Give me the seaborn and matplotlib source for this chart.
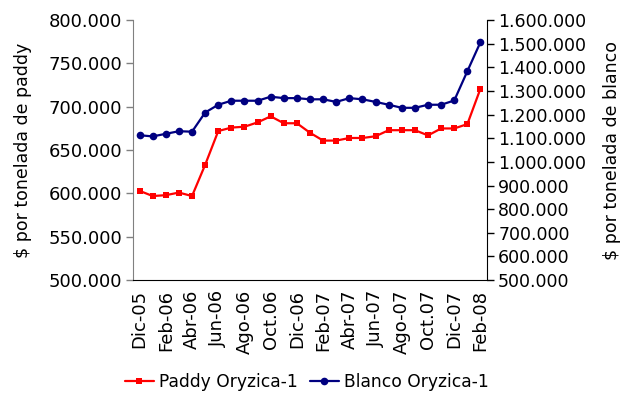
import numpy as np
import pandas as pd
import seaborn as sns
import matplotlib.pyplot as plt
from matplotlib.ticker import FuncFormatter, FixedLocator

# meses Dic-05 .. Feb-08
meses = ['Dic-05', 'Ene-06', 'Feb-06', 'Mar-06', 'Abr-06', 'May-06', 'Jun-06', 'Jul-06',
         'Ago-06', 'Sep-06', 'Oct.06', 'Nov-06', 'Dic-06', 'Ene-07', 'Feb-07', 'Mar-07',
         'Abr-07', 'May-07', 'Jun-07', 'Jul-07', 'Ago-07', 'Sep-07', 'Oct.07', 'Nov-07',
         'Dic-07', 'Ene-08', 'Feb-08']

# $ por tonelada de paddy (eje izq.)
paddy = [603000, 597000, 598000, 601000, 597000, 633000, 672000, 676000, 677000,
         682000, 689000, 681000, 681000, 670000, 661000, 661000, 664000, 664000,
         666000, 673000, 673000, 673000, 667000, 675000, 675000, 680000, 721000]

# $ por tonelada de blanco (eje der.)
blanco = [1113000, 1108000, 1119000, 1130000, 1128000, 1209000, 1242000, 1259000, 1259000,
          1259000, 1276000, 1270000, 1270000, 1265000, 1265000, 1254000, 1270000, 1265000,
          1254000, 1242000, 1229000, 1229000, 1242000, 1242000, 1260000, 1384000, 1507000]

df = pd.DataFrame({'x': np.arange(len(meses)), 'paddy': paddy, 'blanco': blanco})

sns.set_style('white')
plt.rcParams['font.family'] = ['DejaVu Sans']
plt.rcParams['text.color'] = 'black'
plt.rcParams['axes.labelcolor'] = 'black'
plt.rcParams['xtick.color'] = 'black'
plt.rcParams['ytick.color'] = 'black'

fig = plt.figure(figsize=(6.26, 4.03), dpi=100)
ax = fig.add_axes([0.2125, 0.305, 0.5655, 0.645])
ax2 = ax.twinx()

sns.lineplot(data=df, x='x', y='paddy', ax=ax, color='#FF0000', marker='s',
             markersize=5, markeredgewidth=0, linewidth=1.6, label='Paddy Oryzica-1', legend=False)
sns.lineplot(data=df, x='x', y='blanco', ax=ax2, color='#000080', marker='o',
             markersize=5.5, markeredgewidth=0, linewidth=1.6, label='Blanco Oryzica-1', legend=False)

def miles(v, pos):
    return f'{int(round(v)):,}'.replace(',', '.')

ax.set_ylim(500000, 800000)
ax.set_yticks(np.arange(500000, 800001, 50000))
ax.yaxis.set_major_formatter(FuncFormatter(miles))
ax2.set_ylim(500000, 1600000)
ax2.set_yticks(np.arange(500000, 1600001, 100000))
ax2.yaxis.set_major_formatter(FuncFormatter(miles))

ax.set_xlim(-0.5, len(meses) - 0.5)
ax.xaxis.set_major_locator(FixedLocator(np.arange(0, len(meses), 2)))
ax.set_xticklabels(meses[::2], rotation=90)
ax.xaxis.set_minor_locator(FixedLocator(np.arange(-0.5, len(meses), 1)))
ax.tick_params(axis='x', which='major', length=0, pad=7, labelsize=13)
ax.tick_params(axis='x', which='minor', length=6, direction='inout', width=1, color='black')
ax.tick_params(axis='y', length=5, direction='out', width=1, labelsize=13, left=True,
               color='#808080', pad=3)
ax2.tick_params(axis='y', length=5, direction='out', width=1, labelsize=12.5, right=True,
                color='black', pad=3)

ax.set_xlabel('')
ax.set_ylabel('$ por tonelada de paddy', fontsize=12.5)
ax2.set_ylabel('$ por tonelada de blanco', fontsize=12.5, rotation=90)
ax.yaxis.label.set_va('center')
ax2.yaxis.label.set_va('center')
ax.yaxis.set_label_coords(-0.31, 0.5)
ax2.yaxis.set_label_coords(1.353, 0.5)

for a in (ax, ax2):
    a.spines['top'].set_visible(False)
ax.spines['left'].set_color('#808080')
ax.spines['bottom'].set_color('black')
ax2.spines['left'].set_visible(False)
ax2.spines['bottom'].set_visible(False)
ax2.spines['right'].set_color('black')
ax.spines['right'].set_visible(False)

h1, l1 = ax.get_legend_handles_labels()
h2, l2 = ax2.get_legend_handles_labels()
fig.legend(h1 + h2, l1 + l2, loc='center', bbox_to_anchor=(0.49, 0.052), ncol=2,
           frameon=False, fontsize=12.3, handlelength=1.7, handletextpad=0.3, columnspacing=0.7)

fig.savefig('out.png', dpi=100)
